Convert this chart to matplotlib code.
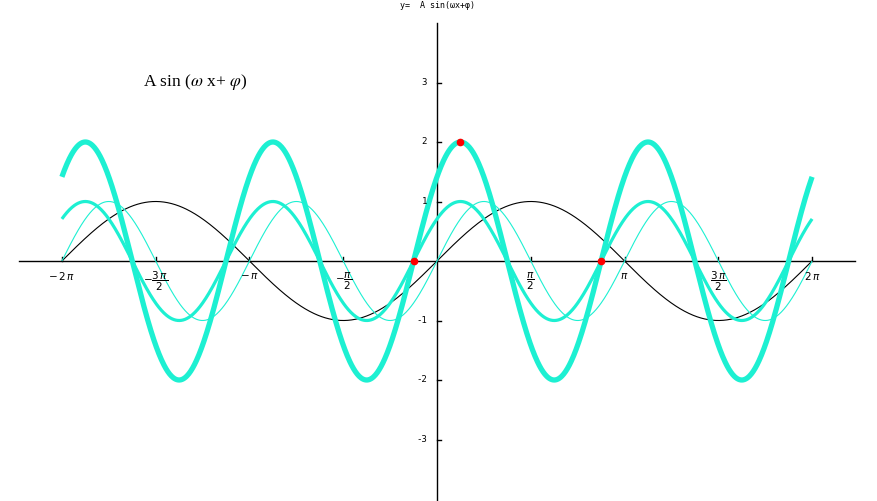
import numpy as np
import matplotlib
matplotlib.use("Agg")
import matplotlib.pyplot as plt

# curve parameters: A * sin(w*x + phi)
curve_names = ["sin x", "sin 2x", "sin(2x+pi/4)", "2 sin(2x+pi/4)"]
amplitudes = [1.0, 1.0, 1.0, 2.0]
omegas = [1.0, 2.0, 2.0, 2.0]
phases = [0.0, 0.0, np.pi / 4, np.pi / 4]
curve_colors = ["black", "#1DF0D2", "#1DF0D2", "#1DF0D2"]
curve_widths = [0.8, 0.8, 2.3, 3.8]

# highlighted points
dot_x = [-np.pi / 8, np.pi / 8, 7 * np.pi / 8]
dot_y = [0.0, 2.0, 0.0]

x_ticks = [-2 * np.pi, -1.5 * np.pi, -np.pi, -0.5 * np.pi, 0.5 * np.pi, np.pi, 1.5 * np.pi, 2 * np.pi]
x_tick_labels = [r"$-\,2\,\pi$", r"$-\dfrac{3\,\pi}{2}$", r"$-\,\pi$", r"$-\dfrac{\pi}{2}$",
                 r"$\dfrac{\pi}{2}$", r"$\pi$", r"$\dfrac{3\,\pi}{2}$", r"$2\,\pi$"]
y_ticks = [-3, -2, -1, 1, 2, 3]
y_tick_labels = ["-3", "-2", "-1", "1", "2", "3"]

W, H = 877, 501
fig = plt.figure(figsize=(W / 100, H / 100), dpi=100)
ax = fig.add_axes([0, 0, 1, 1])
ox, oy, sx, sy = 437, 261, 59.7, 59.5
ax.set_xlim(-ox / sx, (W - ox) / sx)
ax.set_ylim(-(H - oy) / sy, oy / sy)
ax.axis("off")

# axes lines
ax.plot([-7, 7], [0, 0], color="black", lw=1.0, zorder=1)
ax.plot([0, 0], [-4.1, 4.0], color="black", lw=1.0, zorder=1)
tl_x = 4 / sy
tl_y = 4 / sx
for t in x_ticks:
    ax.plot([t, t], [0, tl_x], color="black", lw=1.0, zorder=1)
for t in y_ticks:
    ax.plot([0, tl_y], [t, t], color="black", lw=1.0, zorder=1)

plt.rcParams.update({"mathtext.fontset": "dejavusans"})
for t, lab in zip(x_ticks, x_tick_labels):
    if "frac" in lab:
        ax.text(t, -0.335, lab, ha="center", va="center", fontsize=7.5)
    else:
        ax.text(t, -0.26, lab, ha="center", va="center", fontsize=7.5)
for t, lab in zip(y_ticks, y_tick_labels):
    ax.text(-0.17, t, lab, ha="right", va="center", fontsize=6.5, family="DejaVu Sans Mono")

xs = np.linspace(-2 * np.pi, 2 * np.pi, 1200)
for A, w, p, c, lw in zip(amplitudes, omegas, phases, curve_colors, curve_widths):
    ax.plot(xs, A * np.sin(w * xs + p), color=c, lw=lw, zorder=2, solid_capstyle="butt")

ax.plot(dot_x, dot_y, "o", color="red", markersize=4.5, zorder=5)

fig.text(ox / W, 1 - 6 / H, "y=  A sin(ωx+φ)", ha="center", va="center", fontsize=6,
         family="DejaVu Sans Mono")
fig.text(143 / W, 1 - 82 / H, r"A sin ($\omega$ x+ $\varphi$)", ha="left", va="center",
         fontsize=12.5, family="Liberation Serif", math_fontfamily="stix")

fig.savefig("out.png", dpi=100)
